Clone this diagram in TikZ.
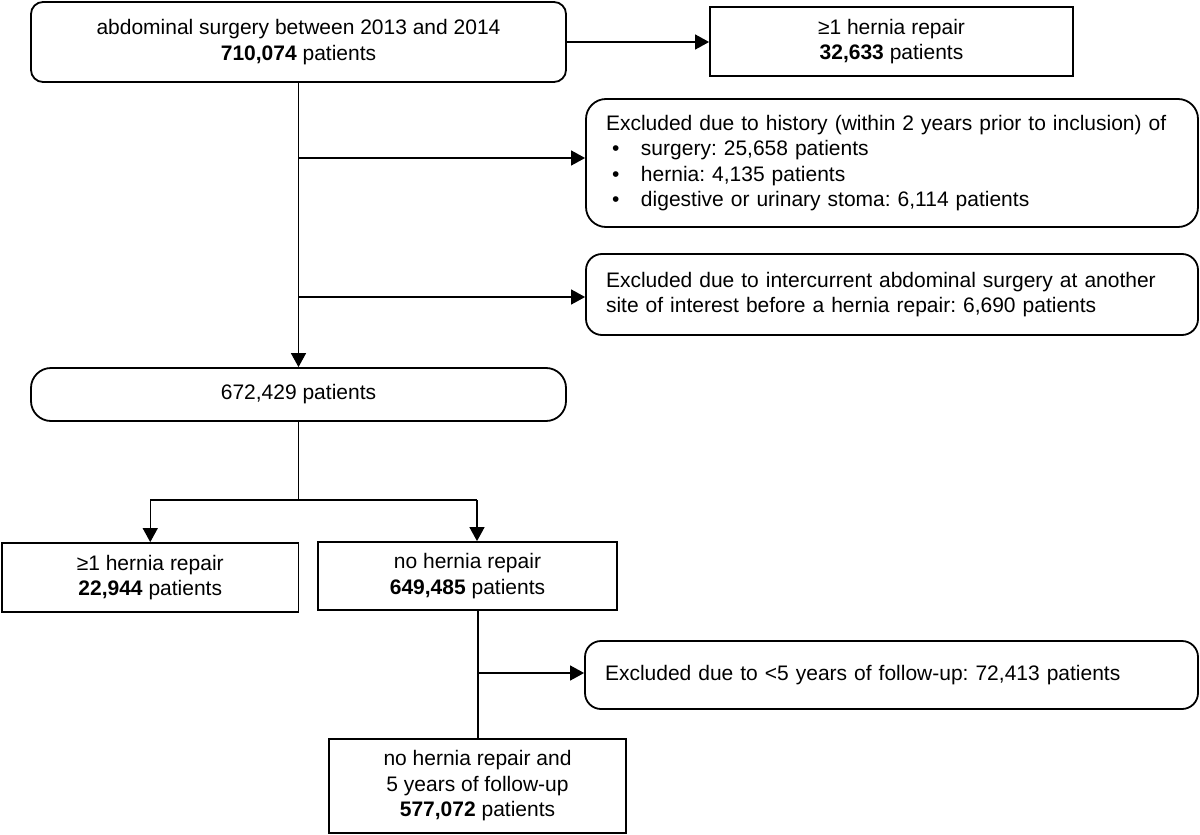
\documentclass[tikz,border=0pt]{standalone}
\usepackage{fontspec}
\setmainfont{Liberation Sans}
\usetikzlibrary{arrows.meta,calc}
\frenchspacing
\begin{document}
\begin{tikzpicture}[x=1pt,y=-1pt,
  box/.style={draw, line width=1.8pt, inner sep=0pt, align=center,
              font=\fontsize{21}{25.5}\selectfont},
  leftbox/.style={box, align=left, text width=#1},
  conn/.style={line width=1.3pt},
  arr/.style={conn, -{Triangle[length=14pt,width=15pt]}}]
\useasboundingbox (0,0) rectangle (1200,835);

% boxes
\node[box, rounded corners=12pt, minimum width=535pt, minimum height=80pt]
  (A) at (298.5,42) {abdominal surgery between 2013 and 2014\\\textbf{710,074} patients};
\node[box, minimum width=363pt, minimum height=69pt]
  (B) at (891.5,41.5) {≥1 hernia repair\\\textbf{32,633} patients};
\node[leftbox=572pt, rounded corners=20pt, minimum width=612pt, minimum height=128pt]
  (C) at (892,163) {Excluded due to history (within 2 years prior to inclusion) of\\
  \makebox[35pt][l]{\hspace{6pt}\textbullet}surgery: 25,658 patients\\
  \makebox[35pt][l]{\hspace{6pt}\textbullet}hernia: 4,135 patients\\
  \makebox[35pt][l]{\hspace{6pt}\textbullet}digestive or urinary stoma: 6,114 patients};
\node[leftbox=572pt, rounded corners=16pt, minimum width=612pt, minimum height=81pt]
  (D) at (892,294.5) {Excluded due to intercurrent abdominal surgery at another\\site of interest before a hernia repair: 6,690 patients};
\node[box, rounded corners=20pt, minimum width=535pt, minimum height=53pt]
  (E) at (298.5,394.5) {672,429 patients};
\node[box, minimum width=296.5pt, minimum height=69pt]
  (F) at (150.25,577.5) {≥1 hernia repair\\\textbf{22,944} patients};
\node[box, minimum width=299pt, minimum height=68pt]
  (G) at (467.5,576) {no hernia repair\\\textbf{649,485} patients};
\node[leftbox=573pt, rounded corners=16pt, minimum width=613pt, minimum height=68pt]
  (I) at (891.5,675) {Excluded due to <5 years of follow-up: 72,413 patients};
\node[box, minimum width=297pt, minimum height=94pt]
  (H) at (477.5,786) {no hernia repair and\\5 years of follow-up\\\textbf{577,072} patients};

% connectors
\draw[arr] (A.east) -- (A.east -| B.west);
\draw[arr] (A.south) -- (E.north);
\coordinate (b1) at (298.5,158);
\coordinate (b2) at (298.5,297);
\draw[arr] (b1) -- (b1 -| C.west);
\draw[arr] (b2) -- (b2 -| D.west);

\coordinate (j) at (298.5,500);
\coordinate (jl) at (150.25,500);
\coordinate (jr) at (477,500);
\draw[conn] (E.south) -- (j);
\draw[conn] (jl) -- (jr);
\draw[arr] (jl) -- (jl |- F.north);
\draw[arr] (jr) -- (jr |- G.north);

\coordinate (gs) at (478,610);
\coordinate (k) at (478,673);
\draw[conn] (gs) -- (gs |- H.north);
\draw[arr] (k) -- (k -| I.west);
\end{tikzpicture}
\end{document}
